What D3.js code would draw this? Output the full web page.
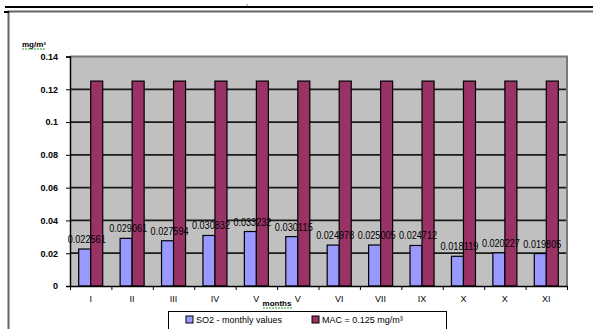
<!DOCTYPE html>
<html>
<head>
<meta charset="utf-8">
<script src="https://cdn.jsdelivr.net/npm/d3@7"></script>
<style>
  body { margin: 0; background: #fff; }
  svg { display: block; font-family: "Liberation Sans", Arial, sans-serif; }
</style>
</head>
<body>
<div id="chart"></div>
<script>
// Chart data.
var months = ["I", "II", "III", "IV", "V", "V", "VI", "VII", "IX", "X", "X", "XI"];
var so2Values = [0.022561, 0.029061, 0.027594, 0.030832, 0.033232, 0.030115,
                 0.024978, 0.025005, 0.024712, 0.018119, 0.020227, 0.019805];
var macValues = [0.125, 0.125, 0.125, 0.125, 0.125, 0.125,
                 0.125, 0.125, 0.125, 0.125, 0.125, 0.125];
var yTicks = [0, 0.02, 0.04, 0.06, 0.08, 0.1, 0.12, 0.14];
var yTickLabels = ["0", "0.02", "0.04", "0.06", "0.08", "0.1", "0.12", "0.14"];
var seriesNames = ["SO2 - monthly values", "MAC = 0.125 mg/m\u00b3"];
var seriesColors = ["#9999FF", "#993366"];

var width = 593, height = 329;
var plot = {left: 70, right: 567, top: 56.5, bottom: 286};

var svg = d3.select("#chart").append("svg")
    .attr("width", width)
    .attr("height", height);

// document line above and outer frame
svg.append("line")
    .attr("x1", 5).attr("x2", 593).attr("y1", 7).attr("y2", 7)
    .attr("stroke", "#000").attr("stroke-width", 2);
svg.append("text").attr("x", 246).attr("y", 5).attr("font-size", 7).text(",");
svg.append("rect")
    .attr("x", 8.5).attr("y", 11.5).attr("width", 600).attr("height", 330)
    .attr("fill", "none").attr("stroke", "#666").attr("stroke-width", 2);
svg.append("rect").attr("x", 4).attr("y", 11).attr("width", 5).attr("height", 2).attr("fill", "#000");

// scales
var x0 = d3.scaleBand().domain(d3.range(months.length))
    .range([plot.left, plot.right]).paddingInner(0.42).paddingOuter(0.21);
var x1 = d3.scaleBand().domain([0, 1]).range([0, x0.bandwidth()]);
var y = d3.scaleLinear().domain([0, 0.14]).range([plot.bottom, plot.top]);

// plot background
svg.append("rect")
    .attr("x", plot.left).attr("y", plot.top)
    .attr("width", plot.right - plot.left).attr("height", plot.bottom - plot.top)
    .attr("fill", "#C0C0C0");

// gridlines
svg.append("g").selectAll("line")
    .data(yTicks.filter(function(d) { return d > 0 && d < 0.14; }))
    .enter().append("line")
    .attr("x1", plot.left).attr("x2", plot.right)
    .attr("y1", function(d) { return y(d); }).attr("y2", function(d) { return y(d); })
    .attr("stroke", "#1a1a1a").attr("stroke-width", 1.8);

// plot border top / right
svg.append("path")
    .attr("d", "M" + plot.left + "," + plot.top + "H" + plot.right + "V" + plot.bottom)
    .attr("fill", "none").attr("stroke", "#7a7a7a").attr("stroke-width", 2);

// bars
var groups = svg.append("g").selectAll("g")
    .data(months).enter().append("g")
    .attr("transform", function(d, i) { return "translate(" + x0(i) + ",0)"; });

groups.append("rect")
    .attr("x", x1(0)).attr("width", x1.bandwidth())
    .attr("y", function(d, i) { return y(so2Values[i]); })
    .attr("height", function(d, i) { return y(0) - y(so2Values[i]); })
    .attr("fill", seriesColors[0]).attr("stroke", "#000").attr("stroke-width", 1.2);

groups.append("rect")
    .attr("x", x1(1)).attr("width", x1.bandwidth())
    .attr("y", function(d, i) { return y(macValues[i]); })
    .attr("height", function(d, i) { return y(0) - y(macValues[i]); })
    .attr("fill", seriesColors[1]).attr("stroke", "#000").attr("stroke-width", 1.2);

// data labels on SO2 bars
groups.append("text")
    .attr("x", x1(0) + x1.bandwidth() / 2 + 2)
    .attr("y", function(d, i) { return y(so2Values[i]) - 6; })
    .attr("text-anchor", "middle")
    .attr("font-size", 10)
    .attr("textLength", 38).attr("lengthAdjust", "spacingAndGlyphs")
    .text(function(d, i) { return so2Values[i]; });

// y axis
var yAxis = d3.axisLeft(y).tickValues(yTicks)
    .tickFormat(function(d, i) { return yTickLabels[i]; })
    .tickSize(4).tickPadding(8);
var yG = svg.append("g").attr("transform", "translate(" + plot.left + ",0)").call(yAxis);
yG.select(".domain").attr("stroke", "#000").attr("stroke-width", 1.5);
yG.selectAll("text").attr("font-size", 9).attr("font-weight", "bold").attr("fill", "#000");

// x axis line and separators between months
var xAxisScale = d3.scaleLinear().domain([0, months.length]).range([plot.left, plot.right]);
var xAxis = d3.axisBottom(xAxisScale).tickValues(d3.range(months.length + 1))
    .tickFormat("").tickSize(4).tickSizeOuter(0);
var xG = svg.append("g").attr("transform", "translate(0," + plot.bottom + ")").call(xAxis);
xG.select(".domain").attr("stroke", "#000").attr("stroke-width", 1.5);

// month labels
svg.append("g").selectAll("text")
    .data(months).enter().append("text")
    .attr("x", function(d, i) { return x0(i) + x0.bandwidth() / 2; })
    .attr("y", 302)
    .attr("text-anchor", "middle")
    .attr("font-size", 9)
    .text(function(d) { return d; });

// axis titles with green underline
svg.append("text")
    .attr("x", 22).attr("y", 47)
    .attr("font-size", 8).attr("font-weight", "bold")
    .text("mg/m\u00b3");
svg.append("line").attr("x1", 22).attr("x2", 46).attr("y1", 49).attr("y2", 49)
    .attr("stroke", "#2a9a2a").attr("stroke-width", 1.2).attr("stroke-dasharray", "2,1");

svg.append("text")
    .attr("x", 277).attr("y", 306)
    .attr("text-anchor", "middle")
    .attr("font-size", 8).attr("font-weight", "bold")
    .text("months");
svg.append("line").attr("x1", 263).attr("x2", 292).attr("y1", 308).attr("y2", 308)
    .attr("stroke", "#2a9a2a").attr("stroke-width", 1.2).attr("stroke-dasharray", "2,1");

// legend
var legend = svg.append("g");
legend.append("rect")
    .attr("x", 168.5).attr("y", 311.5).attr("width", 278).attr("height", 22)
    .attr("fill", "#fff").attr("stroke", "#000").attr("stroke-width", 1);
var legendX = [186, 312];
seriesNames.forEach(function(name, i) {
    legend.append("rect")
        .attr("x", legendX[i]).attr("y", 316).attr("width", 7).attr("height", 7)
        .attr("fill", seriesColors[i]).attr("stroke", "#000").attr("stroke-width", 1);
    legend.append("text")
        .attr("x", legendX[i] + 10).attr("y", 323)
        .attr("font-size", 9)
        .text(name);
});
</script>
</body>
</html>
